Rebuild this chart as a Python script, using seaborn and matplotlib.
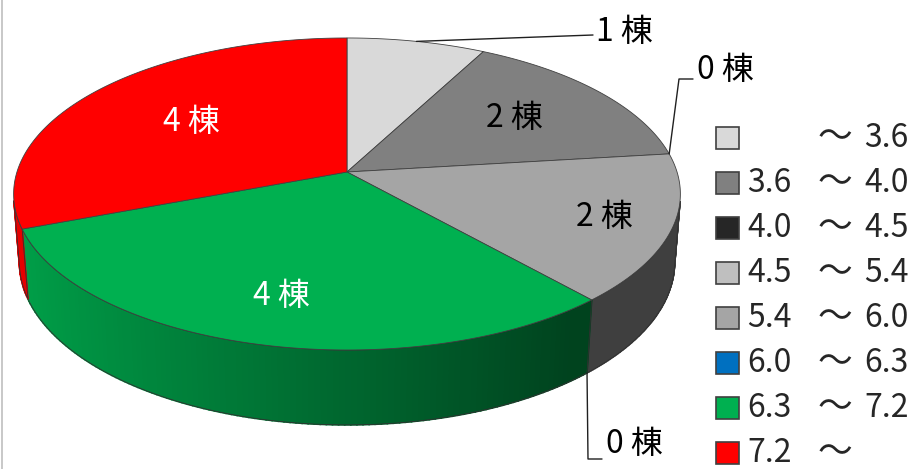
import numpy as np
import seaborn as sns
import matplotlib.pyplot as plt
from matplotlib.patches import Polygon, Rectangle
from matplotlib.colors import to_rgb

# data
lows = ['', '3.6', '4.0', '4.5', '5.4', '6.0', '6.3', '7.2']
highs = ['3.6', '4.0', '4.5', '5.4', '6.0', '6.3', '7.2', '']
counts = [1, 2, 0, 0, 2, 0, 4, 4]
colors = ['#D9D9D9', '#808080', '#262626', '#BFBFBF', '#A5A5A5', '#0070C0', '#00B050', '#FF0000']

sns.set_style('white')
plt.rcParams['font.family'] = ['Noto Sans CJK JP', 'DejaVu Sans']
FS = 23

# 3D pie projection (pixel space)
CX, CY = 347, 172
F, D = 2076, 6.29
TILT = np.radians(27.6)
H = 0.235
cT, sT = np.cos(TILT), np.sin(TILT)
VIS = -1 / (D * cT)   # side wall visible where sin(phi) < VIS


def proj(phi, r=1.0, y=0.0):
    x, z = r * np.cos(phi), r * np.sin(phi)
    v = y * cT + z * sT
    w = D + z * cT - y * sT
    return CX + F * x / w, CY - F * v / w


def shade(col, phi):
    k = np.clip(0.583 - 0.337 * np.cos(phi), 0.38, 0.95)
    return tuple(c * k for c in to_rgb(col))


fig = plt.figure(figsize=(9.22, 4.69), dpi=100)
ax = fig.add_axes([0, 0, 1, 1])
ax.set_xlim(0, 922)
ax.set_ylim(469, 0)
ax.axis('off')
ax.plot([1.5, 1.5], [0, 469], color='#BFBFBF', lw=1.2)

total = sum(counts)
frac = np.array(counts) / total
starts = np.radians(90 - 360 * np.concatenate([[0], np.cumsum(frac)[:-1]]))
ends = starts - np.radians(360 * frac)

# side walls
for i, n in enumerate(counts):
    if n == 0:
        continue
    phis = np.linspace(starts[i], ends[i], 120)
    vis = phis[np.sin(phis) < VIS]
    if len(vis) < 2:
        continue
    for a, b in zip(vis[:-1], vis[1:]):
        pts = [proj(a), proj(b), proj(b, y=-H), proj(a, y=-H)]
        c = shade(colors[i], (a + b) / 2)
        ax.add_patch(Polygon(pts, closed=True, facecolor=c, edgecolor=c, lw=1.2))
    outline = [proj(p) for p in vis] + [proj(p, y=-H) for p in vis[::-1]]
    ax.add_patch(Polygon(outline, closed=True, facecolor='none', edgecolor='#303030', lw=0.6))

# top surface
for i, n in enumerate(counts):
    if n == 0:
        continue
    phis = np.linspace(starts[i], ends[i], 200)
    pts = [(CX, CY)] + [proj(p) for p in phis]
    ax.add_patch(Polygon(pts, closed=True, facecolor=colors[i], edgecolor='#404040', lw=0.6))

# inside labels
lab_r = [0.7, 0.65, 0.7, 0.7, 0.8, 0.7, 0.75, 0.6]
for i, n in enumerate(counts):
    if n < 2:
        continue
    mid = (starts[i] + ends[i]) / 2
    x, y = proj(mid, r=lab_r[i])
    tc = 'white' if colors[i] in ('#00B050', '#FF0000') else 'black'
    ax.text(x, y, f'{n} 棟', ha='center', va='center', fontsize=FS, color=tc)

# outside labels with leader lines (text anchor positions)
out_pos = {0: (596, 32), 2: (697, 70), 5: (606, 444)}
for i, (tx, ty) in out_pos.items():
    phi = (starts[i] + ends[i]) / 2
    ay = -H if np.sin(phi) < VIS else 0.0
    axp, ayp = proj(phi, y=ay)
    if i == 0:
        ax.plot([axp, tx - 3], [ayp, ty + 3], color='#202020', lw=1)
    else:
        ly = ty + (9 if ty < ayp else 15)
        ax.plot([axp, tx - 18, tx - 4], [ayp, ly, ly], color='#202020', lw=1)
    ax.text(tx, ty, f'{counts[i]} 棟', ha='left', va='center', fontsize=FS, color='black')

# legend
for i in range(len(counts)):
    y = 138 + 45 * i
    ax.add_patch(Rectangle((716, y - 11), 23, 22, facecolor=colors[i], edgecolor='#404040', lw=1.2))
    ax.text(747, y, lows[i], ha='left', va='center', fontsize=FS)
    ax.text(835, y, '～', ha='center', va='center', fontsize=FS + 2)
    ax.text(864, y, highs[i], ha='left', va='center', fontsize=FS)

fig.savefig('out.png', dpi=100)
